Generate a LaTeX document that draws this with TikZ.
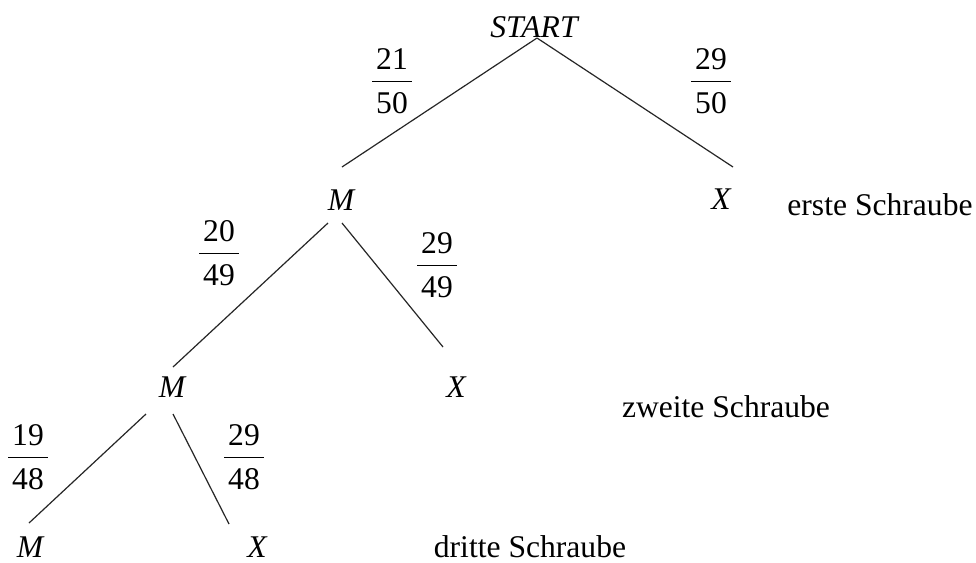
\documentclass[tikz,border=0pt]{standalone}
\usepackage{fontspec}
\setmainfont{Liberation Serif}
\setlength{\arrayrulewidth}{0.5pt}
\newcommand{\myfr}[2]{\begin{tabular}{@{\hspace{2pt}}c@{\hspace{2pt}}}#1\\\hline\rule{0pt}{16pt}#2\end{tabular}}
\begin{document}
\begin{tikzpicture}[x=0.5pt,y=-0.5pt,
  lbl/.style={inner sep=0pt,anchor=base,font=\fontsize{15.8}{19}\selectfont\itshape},
  txt/.style={inner sep=0pt,anchor=base,font=\fontsize{15.8}{19}\selectfont},
  frac/.style={inner sep=0pt,font=\fontsize{15.8}{19}\selectfont},
  branch/.style={line width=0.6pt,black!85}]
\useasboundingbox[fill=white] (0,0) rectangle (976,563);
% nodes
\node[lbl] (start) at (534,37) {START};
\node[lbl] (m1) at (341,210) {M};
\node[lbl] (x1) at (721,209) {X};
\node[lbl] (m2) at (172,397) {M};
\node[lbl] (x2) at (456,397) {X};
\node[lbl] (m3) at (30,557) {M};
\node[lbl] (x3) at (257,557) {X};
\node[txt] (l1) at (880,215) {erste Schraube};
\node[txt] (l2) at (726,417) {zweite Schraube};
\node[txt] (l3) at (530,557) {dritte Schraube};
% fractions
\node[frac] (f1) at (392,84) {\myfr{21}{50}};
\node[frac] (f2) at (711,84) {\myfr{29}{50}};
\node[frac] (f3) at (219,256) {\myfr{20}{49}};
\node[frac] (f4) at (437,268) {\myfr{29}{49}};
\node[frac] (f5) at (28,460) {\myfr{19}{48}};
\node[frac] (f6) at (244,460) {\myfr{29}{48}};
% branches
\draw[branch] ([shift={(3,1)}]start.base) -- ([shift={(1,-43)}]m1.base);
\draw[branch] ([shift={(3,1)}]start.base) -- ([shift={(12,-42)}]x1.base);
\draw[branch] ([shift={(-13,13)}]m1.base) -- ([shift={(1,-30)}]m2.base);
\draw[branch] ([shift={(1,13)}]m1.base) -- ([shift={(-13,-50)}]x2.base);
\draw[branch] ([shift={(-26,17)}]m2.base) -- ([shift={(-1,-34)}]m3.base);
\draw[branch] ([shift={(1,17)}]m2.base) -- ([shift={(-28,-33)}]x3.base);
\end{tikzpicture}
\end{document}
